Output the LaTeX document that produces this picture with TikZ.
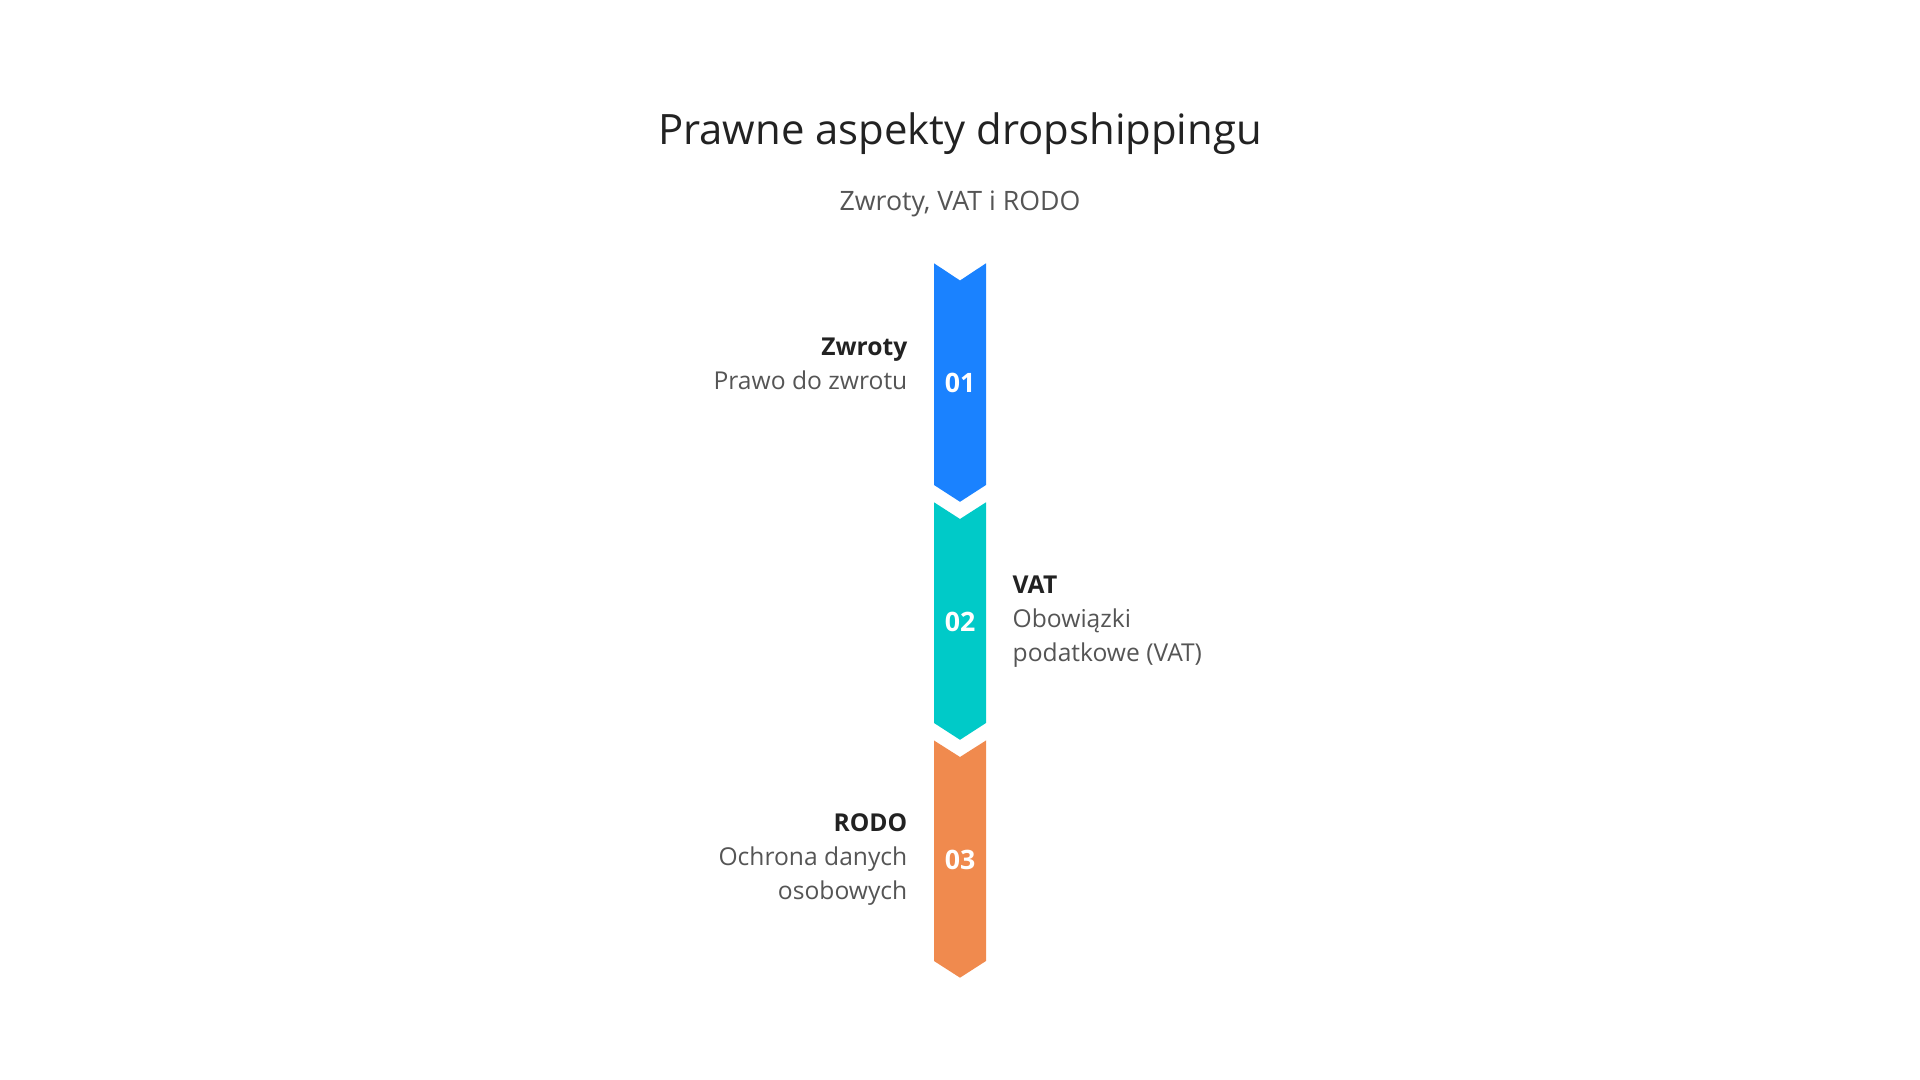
\documentclass[tikz,border=0pt]{standalone}
\usepackage{fontspec}
\setmainfont{Open Sans}
\usetikzlibrary{positioning}
\definecolor{stepblue}{RGB}{26,130,255}
\definecolor{stepteal}{RGB}{0,202,200}
\definecolor{steporange}{RGB}{240,138,78}
\definecolor{headtext}{RGB}{34,34,34}
\definecolor{bodytext}{RGB}{85,85,85}

\begin{document}
\begin{tikzpicture}[x=0.01cm,y=-0.01cm,
  num/.style={text=white,inner sep=0,font=\fontsize{7.6}{8}\selectfont\bfseries},
  lab/.style={inner sep=0,font=\fontsize{7}{9.6}\selectfont}]
\useasboundingbox (0,0) rectangle (1920,1080);
% titles
\node[inner sep=0,anchor=base,text=headtext,font=\fontsize{11.9}{13}\selectfont] (title) at (960,145) {Prawne aspekty dropshippingu};
\node[inner sep=0,anchor=base,text=bodytext,font=\fontsize{7.6}{9}\selectfont] (subtitle) at (960,211) {Zwroty, VAT i RODO};
% chevrons
\fill[stepblue] (934,263.3)--(960,280.5)--(986,263.3)--(986,485)--(960,501.8)--(934,485)--cycle;
\fill[stepteal] (934,502.3)--(960,519)--(986,502.3)--(986,723)--(960,739.8)--(934,723)--cycle;
\fill[steporange] (934,740.5)--(960,757)--(986,740.5)--(986,961)--(960,977.7)--(934,961)--cycle;
\node[num] (n01) at (960,383) {01};
\node[num] (n02) at (960,621.5) {02};
\node[num] (n03) at (960,860) {03};
% labels (base = last line)
\node[lab,anchor=base east,align=right] (zwroty) at (908,389.5) {{\color{headtext}\bfseries Zwroty}\\{\color{bodytext}Prawo do zwrotu}};
\node[lab,anchor=base west,align=left] (vat) at (1012,661.3) {{\color{headtext}\bfseries VAT}\\{\color{bodytext}Obowiązki}\\{\color{bodytext}podatkowe (VAT)}};
\node[lab,anchor=base east,align=right] (rodo) at (908,899.5) {{\color{headtext}\bfseries RODO}\\{\color{bodytext}Ochrona danych}\\{\color{bodytext}osobowych}};
\end{tikzpicture}
\end{document}
